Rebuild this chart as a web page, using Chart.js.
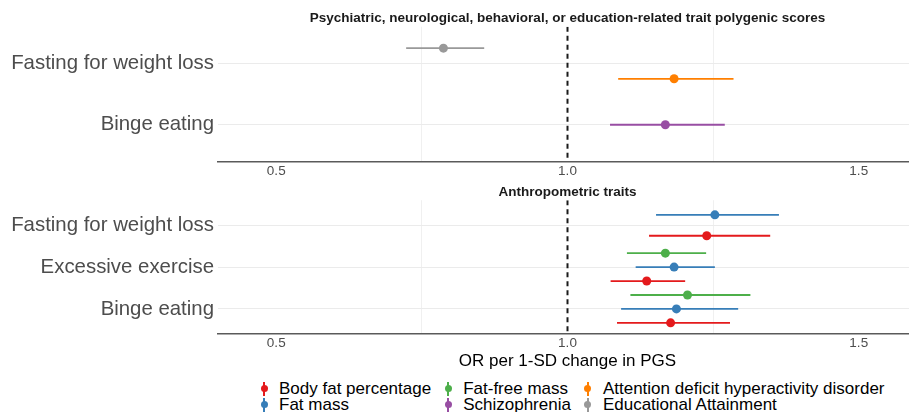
<!DOCTYPE html>
<html>
<head>
<meta charset="UTF-8">
<title>OR per 1-SD change in PGS</title>
<script src="https://cdn.jsdelivr.net/npm/chart.js@4.4.1/dist/chart.umd.min.js"></script>
<style>
  body { margin: 0; width: 909px; height: 412px; overflow: hidden; background: #fff; position: relative;
         font-family: 'Liberation Sans', Arial, sans-serif; }
  canvas { position: absolute; left: 0; }
  #topChart { top: 0; }
  #bottomChart { top: 178px; }
  #legend { position: absolute; left: 256px; top: 381px; display: flex; gap: 9px;
            font-size: 17px; line-height: 15.8px; color: #000; }
  .item { display: flex; align-items: center; height: 15.8px; white-space: nowrap; }
  .key { position: relative; width: 16px; height: 15.8px; margin-right: 7px; flex: none; }
  .key .bar { position: absolute; left: 7px; top: 1px; width: 2px; height: 14px; }
  .key .dot { position: absolute; left: 4.5px; top: 4.4px; width: 7px; height: 7px; border-radius: 50%; }
</style>
</head>
<body>
<canvas id="topChart" width="917" height="182"></canvas>
<canvas id="bottomChart" width="917" height="194"></canvas>
<div id="legend"></div>

<script>
// categories (top to bottom)
const topCats = ['Fasting for weight loss', 'Binge eating'];
const bottomCats = ['Fasting for weight loss', 'Excessive exercise', 'Binge eating'];

// x axis
const xTickValues = [0.5, 1.0, 1.5];
const xMinorGrid = [0.75, 1.25];
const refLine = 1.0;

// odds ratios with 95% CI, one value per category (null = not shown)
// top panel
const adhdOR = [1.183, null];
const adhdLo = [1.087, null];
const adhdHi = [1.285, null];
const sczOR = [null, 1.168];
const sczLo = [null, 1.073];
const sczHi = [null, 1.270];
const eaOR = [0.787, null];
const eaLo = [0.723, null];
const eaHi = [0.857, null];
// bottom panel
const bfpOR = [1.239, 1.136, 1.177];
const bfpLo = [1.140, 1.074, 1.085];
const bfpHi = [1.348, 1.202, 1.279];
const fmOR = [1.253, 1.183, 1.187];
const fmLo = [1.152, 1.117, 1.092];
const fmHi = [1.363, 1.253, 1.293];
const ffmOR = [null, 1.168, 1.206];
const ffmLo = [null, 1.102, 1.108];
const ffmHi = [null, 1.238, 1.314];

const series = {
  bfp:  { label: 'Body fat percentage', color: '#E41A1C', or: bfpOR, lo: bfpLo, hi: bfpHi },
  fm:   { label: 'Fat mass', color: '#377EB8', or: fmOR, lo: fmLo, hi: fmHi },
  ffm:  { label: 'Fat-free mass', color: '#4DAF4A', or: ffmOR, lo: ffmLo, hi: ffmHi },
  scz:  { label: 'Schizophrenia', color: '#984EA3', or: sczOR, lo: sczLo, hi: sczHi },
  adhd: { label: 'Attention deficit hyperactivity disorder', color: '#FF7F00', or: adhdOR, lo: adhdLo, hi: adhdHi },
  ea:   { label: 'Educational Attainment', color: '#999999', or: eaOR, lo: eaLo, hi: eaHi }
};
const legendOrder = ['bfp', 'fm', 'ffm', 'scz', 'adhd', 'ea'];

Chart.defaults.font.family = "'Liberation Sans', Arial, sans-serif";
Chart.defaults.animation = false;

// dodge the series that are present in each category, like position_dodge
function buildDatasets(cats, keys) {
  const out = {};
  keys.forEach(k => out[k] = []);
  cats.forEach((c, i) => {
    const present = keys.filter(k => series[k].or[i] != null);
    const n = present.length;
    present.forEach((k, j) => {
      const s = series[k];
      const y = i + 1 + (j - (n - 1) / 2) / n;
      out[k].push({ x: s.lo[i], y: y }, { x: s.or[i], y: y, mid: true }, { x: s.hi[i], y: y }, { x: null, y: null });
    });
  });
  const ds = keys.map(k => ({
    label: series[k].label,
    data: out[k],
    showLine: true,
    borderColor: series[k].color,
    backgroundColor: series[k].color,
    borderWidth: 1.8,
    borderCapStyle: 'butt',
    pointRadius: ctx => (ctx.raw && ctx.raw.mid) ? 4.5 : 0,
    pointHoverRadius: ctx => (ctx.raw && ctx.raw.mid) ? 4.5 : 0,
    pointBorderWidth: 0,
    pointBackgroundColor: series[k].color
  }));
  ds.push({
    label: 'ref',
    data: [{ x: refLine, y: 0.4 }, { x: refLine, y: cats.length + 0.6 }],
    showLine: true,
    borderColor: '#1a1a1a',
    borderWidth: 2,
    borderDash: [5, 4],
    pointRadius: 0
  });
  return ds;
}

function makeChart(id, title, cats, keys, titleTop, xHeight, showXTitle) {
  return new Chart(document.getElementById(id), {
    type: 'scatter',
    data: { datasets: buildDatasets(cats, keys) },
    options: {
      responsive: false,
      layout: { padding: 0 },
      plugins: {
        legend: { display: false },
        tooltip: { enabled: false },
        title: {
          display: true, text: title, fullSize: false, color: '#1a1a1a',
          font: { size: 13.5, weight: 'bold' },
          padding: { top: titleTop, bottom: 0 }
        }
      },
      scales: {
        x: {
          type: 'linear', min: 0.4, max: 1.6,
          afterBuildTicks: s => {
            s.ticks = xTickValues.concat(xMinorGrid).sort((a, b) => a - b).map(v => ({ value: v }));
          },
          afterFit: s => { s.height = xHeight; },
          ticks: {
            callback: v => xTickValues.includes(v) ? v.toFixed(1) : '',
            color: '#4d4d4d', font: { size: 13.5 }, padding: 1.5, maxRotation: 0, autoSkip: false
          },
          grid: {
            drawTicks: false, lineWidth: 1,
            color: c => (c.tick && xMinorGrid.includes(c.tick.value)) ? '#f0f0f0' : 'rgba(0,0,0,0)'
          },
          border: { display: true, color: '#5a5a5a', width: 1.6 },
          title: {
            display: showXTitle, text: 'OR per 1-SD change in PGS', color: '#000',
            font: { size: 17 }, padding: { top: 0, bottom: 0 }
          }
        },
        y: {
          type: 'linear', reverse: true, min: 0.4, max: cats.length + 0.6,
          afterBuildTicks: s => { s.ticks = cats.map((c, i) => ({ value: i + 1 })); },
          afterFit: s => { s.width = 218; },
          ticks: { callback: v => cats[v - 1], color: '#4d4d4d', font: { size: 20.4 }, padding: 4, autoSkip: false },
          grid: { color: '#ebebeb', lineWidth: 1, drawTicks: false },
          border: { display: false }
        }
      }
    }
  });
}

makeChart('topChart', 'Psychiatric, neurological, behavioral, or education-related trait polygenic scores',
  topCats, ['ea', 'adhd', 'scz'], 10.5, 20.5, false);
makeChart('bottomChart', 'Anthropometric traits',
  bottomCats, ['ffm', 'fm', 'bfp'], 6, 38, true);

// legend, two rows filled column by column
const legend = document.getElementById('legend');
for (let c = 0; c < legendOrder.length; c += 2) {
  const col = document.createElement('div');
  legendOrder.slice(c, c + 2).forEach(k => {
    const s = series[k];
    const item = document.createElement('div');
    item.className = 'item';
    item.innerHTML = '<span class="key"><span class="bar" style="background:' + s.color + '"></span>' +
      '<span class="dot" style="background:' + s.color + '"></span></span><span>' + s.label + '</span>';
    col.appendChild(item);
  });
  legend.appendChild(col);
}
</script>
</body>
</html>
